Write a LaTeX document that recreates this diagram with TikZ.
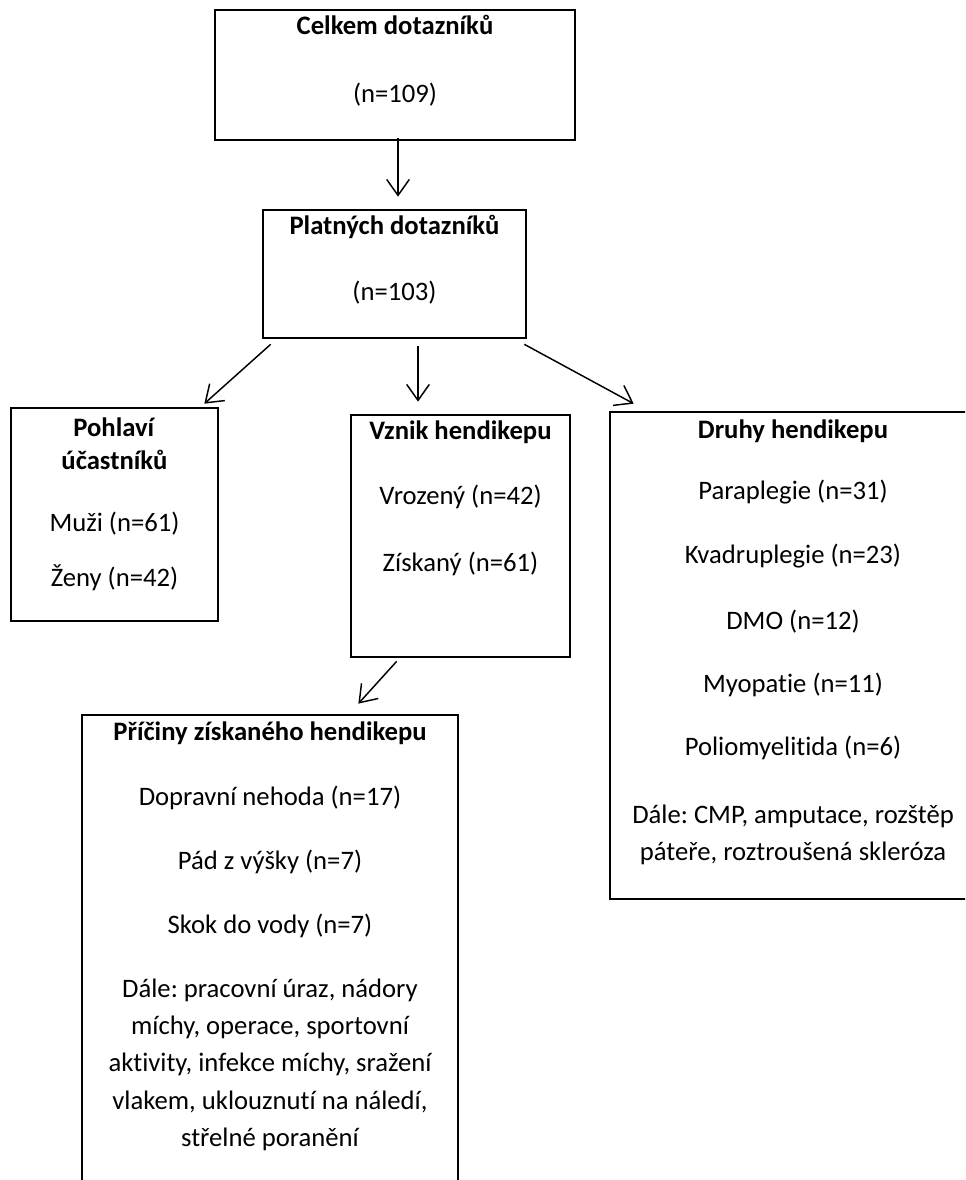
\documentclass[tikz,border=0pt]{standalone}
\usepackage{fontspec}
\setmainfont{Carlito}[Ligatures=NoCommon]
\usetikzlibrary{arrows.meta, positioning, fit}
\frenchspacing

\begin{document}
\begin{tikzpicture}[
    x=0.75pt, y=-0.75pt,
    box/.style={draw, line width=2pt, inner sep=0pt},
    txt/.style={align=center, inner sep=0pt,
                font=\fontsize{20pt}{28pt}\selectfont},
    arr/.style={-{Straight Barb[length=12pt, width=17pt]}, line width=1.1pt},
  ]
    \path[use as bounding box, clip] (0,0) rectangle (965,1180);

    \node[box, fit={(215,10) (575,140)}] (celkem) {};
    \node[box, fit={(263,210) (526,338)}] (platne) {};
    \node[box, fit={(11,408) (218,621)}] (pohlavi) {};
    \node[box, fit={(351,415) (570,657)}] (vznik) {};
    \node[box, fit={(610,412) (976,899)}] (druhy) {};
    \node[box, fit={(82,715) (458,1210)}] (priciny) {};

    \node[txt, below=5pt of celkem.north] (celkemT)
      {\textbf{Celkem dotazníků}\\[22.5pt] (n=109)};
    \node[txt, below=5pt of platne.north] (platneT)
      {\textbf{Platných dotazníků}\\[21pt] (n=103)};
    \node[txt, below=8.5pt of pohlavi.north] (pohlaviT)
      {\textbf{Pohlaví}\\[-3.75pt] \textbf{účastníků}\\[18.5pt]
       Muži (n=61)\\[13.5pt] Ženy (n=42)};
    \node[txt, below=5pt of vznik.north] (vznikT)
      {\textbf{Vznik hendikepu}\\[21pt] Vrozený (n=42)\\[22pt] Získaný (n=61)};
    \node[txt, below=6.5pt of druhy.north] (druhyT)
      {\textbf{Druhy hendikepu}\\[18pt] Paraplegie (n=31)\\[20.25pt]
       Kvadruplegie (n=23)\\[21pt] DMO (n=12)\\[19.5pt]
       Myopatie (n=11)\\[19.5pt] Poliomyelitida (n=6)\\[22.5pt]
       Dále: CMP, amputace, rozštěp\\ páteře, roztroušená skleróza};
    \node[txt, below=6pt of priciny.north] (pricinyT)
      {\textbf{Příčiny získaného hendikepu}\\[20.5pt] Dopravní nehoda (n=17)\\[20.5pt]
       Pád z výšky (n=7)\\[20pt] Skok do vody (n=7)\\[19.5pt]
       Dále: pracovní úraz, nádory\\ míchy, operace, sportovní\\
       aktivity, infekce míchy, sražení\\ vlakem, uklouznutí na náledí,\\
       střelné poranění};

    \draw[arr] ([shift={(3,-3)}]celkem.south) -- ([shift={(3.5,-12)}]platne.north);
    \draw[arr] ([shift={(9,5)}]platne.south west) -- ([shift={(-15,-3)}]pohlavi.north east);
    \draw[arr] ([shift={(23.5,7)}]platne.south) -- ([shift={(-42.5,-12)}]vznik.north);
    \draw[arr] ([shift={(-3,5)}]platne.south east) -- ([shift={(25,-7)}]druhy.north west);
    \draw[arr] ([shift={(47,3)}]vznik.south west) -- ([shift={(-101,-10)}]priciny.north east);
  \end{tikzpicture}
\end{document}
